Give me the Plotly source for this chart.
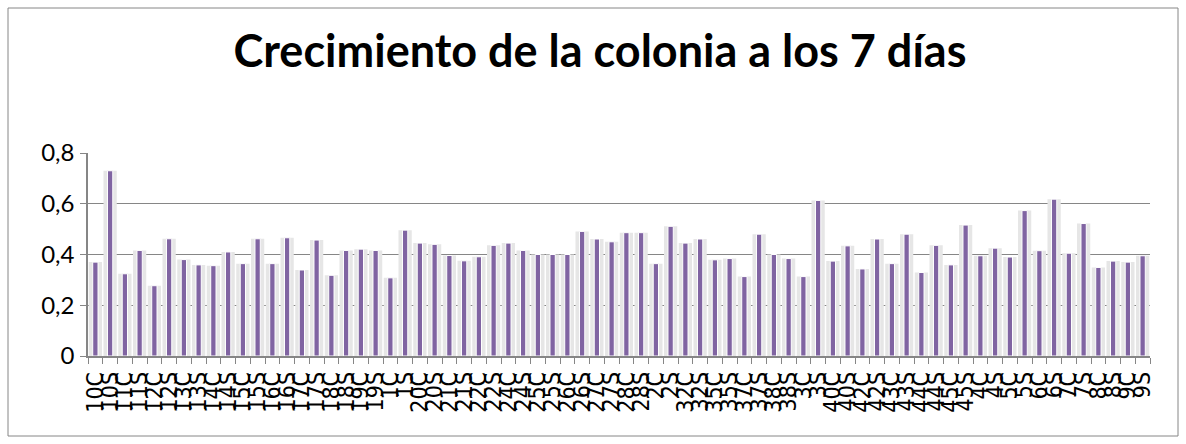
import plotly.graph_objects as go

categories = ["10C","10S","11C","11S","12C","12S","13C","13S","14C","14S",
              "15C","15S","16C","16S","17C","17S","18C","18S","19C","19S",
              "1C","1S","20C","20S","21C","21S","22C","22S","24C","24S",
              "25C","25S","26C","26S","27C","27S","28C","28S","2C","2S",
              "32C","32S","35C","35S","37C","37S","38C","38S","3C","3S",
              "40C","40S","42C","42S","43C","43S","44C","44S","45C","45S",
              "4C","4S","5C","5S","6C","6S","7C","7S","8C","8S","9C","9S"]

values = [0.37, 0.73, 0.324, 0.416, 0.277, 0.462, 0.38, 0.359, 0.356, 0.41,
          0.364, 0.462, 0.364, 0.466, 0.339, 0.457, 0.318, 0.416, 0.421, 0.416,
          0.308, 0.496, 0.445, 0.44, 0.396, 0.375, 0.391, 0.436, 0.445, 0.416,
          0.40, 0.40, 0.40, 0.491, 0.461, 0.45, 0.486, 0.486, 0.364, 0.511,
          0.445, 0.461, 0.379, 0.384, 0.313, 0.48, 0.40, 0.384, 0.313, 0.613,
          0.374, 0.434, 0.343, 0.461, 0.364, 0.48, 0.329, 0.436, 0.359, 0.516,
          0.395, 0.425, 0.39, 0.573, 0.415, 0.618, 0.405, 0.522, 0.349, 0.374,
          0.37, 0.395]

title_text = "Crecimiento de la colonia a los 7 días"
y_ticks = [0, 0.2, 0.4, 0.6, 0.8]
y_tick_text = ["0", "0,2", "0,4", "0,6", "0,8"]

fig = go.Figure()
# soft shadow behind each bar
fig.add_trace(go.Bar(x=categories, y=values, width=0.9,
                     marker=dict(color="#e6e6e6", line=dict(width=0)),
                     hoverinfo="skip", showlegend=False))
fig.add_trace(go.Bar(x=categories, y=values, width=0.36,
                     marker=dict(color="#8064A2", line=dict(color="white", width=1)),
                     showlegend=False))

W, H = 1186, 444
L, R, T, B = 88, 36, 153, 88
pw, ph = W - L - R, H - T - B

fig.update_layout(
    width=W, height=H,
    barmode="overlay",
    separators=", ",
    paper_bgcolor="white", plot_bgcolor="white",
    margin=dict(l=L, r=R, t=T, b=B, autoexpand=False),
    font=dict(family="Lato, Carlito, 'Open Sans', sans-serif", color="black"),
    title=dict(text="<b>" + title_text + "</b>", x=600 / W, xanchor="center",
               y=1 - 51 / H, yanchor="middle", yref="container",
               font=dict(size=45, family="Lato, sans-serif", color="black")),
    xaxis=dict(type="category", categoryorder="array", categoryarray=categories,
               tickmode="array", tickvals=categories, ticktext=categories,
               tickangle=-90,
               tickfont=dict(size=23, family="'DejaVu Sans Condensed', 'Liberation Sans Narrow', sans-serif"),
               showline=True, linecolor="#868686", linewidth=1.5,
               ticks="outside", ticklen=6, tickcolor="#868686", tickson="boundaries",
               ticklabelstandoff=5,
               showgrid=False, automargin=False,
               range=[-0.5, len(categories) - 0.5]),
    yaxis=dict(range=[0, 0.8], tickmode="array", tickvals=y_ticks, ticktext=y_tick_text,
               tickfont=dict(size=24, family="Lato, sans-serif"),
               showline=True, linecolor="#868686", linewidth=1.5,
               ticks="outside", ticklen=6, tickcolor="#868686",
               ticklabelstandoff=1,
               showgrid=True, gridcolor="#868686", gridwidth=1,
               zeroline=False, automargin=False),
    shapes=[dict(type="rect", xref="paper", yref="paper",
                 x0=(8 - L) / pw, x1=(1178 - L) / pw,
                 y0=(H - B - 436) / ph, y1=(H - B - 8) / ph,
                 line=dict(color="#868686", width=1), fillcolor="rgba(0,0,0,0)",
                 layer="below")],
)

fig.write_html("out.html", config={"displayModeBar": False},
               post_script="document.body.style.margin='0';document.body.style.padding='0';")
